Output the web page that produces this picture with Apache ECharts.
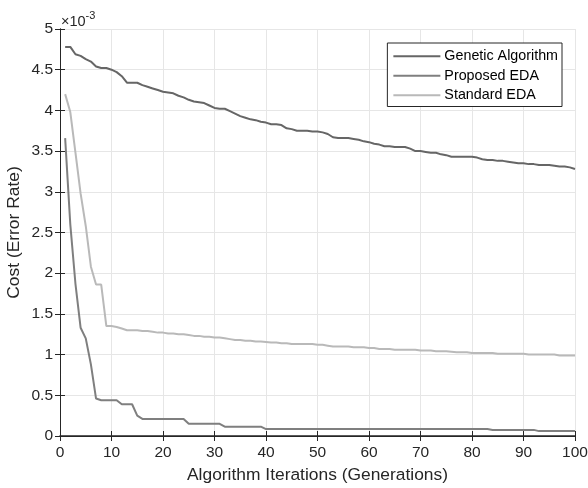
<!DOCTYPE html>
<html>
<head>
<meta charset="utf-8">
<script src="https://cdn.jsdelivr.net/npm/echarts@6/dist/echarts.min.js"></script>
<style>
  html, body { margin: 0; padding: 0; background: #fff; }
  #main { width: 588px; height: 488px; }
</style>
</head>
<body>
<div id="main"></div>
<script>
// iterations 1..100, costs in units of 1e-3
const iterations = [1,2,3,4,5,6,7,8,9,10,11,12,13,14,15,16,17,18,19,20,21,22,23,24,25,26,27,28,29,30,31,32,33,34,35,36,37,38,39,40,41,42,43,44,45,46,47,48,49,50,51,52,53,54,55,56,57,58,59,60,61,62,63,64,65,66,67,68,69,70,71,72,73,74,75,76,77,78,79,80,81,82,83,84,85,86,87,88,89,90,91,92,93,94,95,96,97,98,99,100]

const geneticAlgorithm = [4.78,4.78,4.69,4.67,4.63,4.60,4.54,4.52,4.52,4.50,4.47,4.42,4.34,4.34,4.34,4.31,4.29,4.27,4.25,4.23,4.22,4.21,4.18,4.16,4.13,4.11,4.10,4.09,4.06,4.03,4.02,4.02,3.99,3.96,3.93,3.91,3.89,3.88,3.86,3.85,3.83,3.83,3.82,3.78,3.77,3.75,3.75,3.75,3.74,3.74,3.73,3.71,3.67,3.66,3.66,3.66,3.65,3.64,3.62,3.61,3.59,3.58,3.56,3.56,3.55,3.55,3.55,3.53,3.50,3.50,3.49,3.48,3.48,3.46,3.45,3.43,3.43,3.43,3.43,3.43,3.42,3.40,3.39,3.39,3.38,3.38,3.37,3.36,3.35,3.35,3.34,3.34,3.33,3.33,3.33,3.32,3.31,3.31,3.30,3.28]

const proposedEDA = [3.66,2.60,1.87,1.33,1.20,0.88,0.46,0.44,0.44,0.44,0.44,0.39,0.39,0.39,0.25,0.21,0.21,0.21,0.21,0.21,0.21,0.21,0.21,0.21,0.15,0.15,0.15,0.15,0.15,0.15,0.15,0.115,0.115,0.115,0.115,0.115,0.115,0.115,0.115,0.085,0.085,0.085,0.085,0.085,0.085,0.085,0.085,0.085,0.085,0.085,0.085,0.085,0.085,0.085,0.085,0.085,0.085,0.085,0.085,0.085,0.085,0.085,0.085,0.085,0.085,0.085,0.085,0.085,0.085,0.085,0.085,0.085,0.085,0.085,0.085,0.085,0.085,0.085,0.085,0.085,0.085,0.085,0.085,0.075,0.075,0.075,0.075,0.075,0.075,0.075,0.075,0.075,0.06,0.06,0.06,0.06,0.06,0.06,0.06,0.06]

const standardEDA = [4.20,3.98,3.48,2.98,2.58,2.08,1.86,1.86,1.35,1.35,1.34,1.32,1.30,1.30,1.30,1.29,1.29,1.28,1.27,1.27,1.26,1.26,1.25,1.25,1.24,1.23,1.23,1.22,1.22,1.21,1.21,1.20,1.19,1.18,1.18,1.17,1.17,1.16,1.16,1.155,1.15,1.15,1.14,1.14,1.13,1.13,1.13,1.13,1.13,1.12,1.12,1.11,1.10,1.10,1.10,1.10,1.09,1.09,1.09,1.08,1.08,1.07,1.07,1.07,1.06,1.06,1.06,1.06,1.06,1.05,1.05,1.05,1.04,1.04,1.04,1.035,1.03,1.03,1.03,1.02,1.02,1.02,1.02,1.02,1.01,1.01,1.01,1.01,1.01,1.01,1.00,1.00,1.00,1.00,1.00,1.00,0.99,0.99,0.99,0.99]

const seriesNames = ['Genetic Algorithm', 'Proposed EDA', 'Standard EDA']
const seriesColors = ['#666666', '#7f7f7f', '#b9b9b9']

function pairs(vals) {
  return iterations.map(function (it, i) { return [it, vals[i]] })
}

const axisColor = '#262626'
const font = 'Liberation Sans, Arial, sans-serif'

const chart = echarts.init(document.getElementById('main'))

const option = {
  animation: false,
  backgroundColor: '#fff',
  grid: { left: 60, right: 13, top: 29, bottom: 52, containLabel: false, outerBoundsMode: 'none' },
  legend: {
    orient: 'vertical',
    right: 26,
    top: 43,
    itemWidth: 47,
    itemHeight: 14,
    itemGap: 3,
    padding: [5, 4, 3, 6],
    backgroundColor: '#fff',
    borderColor: axisColor,
    borderWidth: 1,
    borderRadius: 0,
    icon: 'path://M0,6 L47,6 L47,8 L0,8 Z',
    textStyle: { fontFamily: font, fontSize: 14.3, color: '#000', lineHeight: 16.5, padding: [0, 0, 0, -1] },
    data: seriesNames
  },
  xAxis: [{
    type: 'value', min: 0, max: 100, interval: 10,
    name: 'Algorithm Iterations (Generations)',
    nameLocation: 'middle', nameGap: 31,
    nameTextStyle: { fontFamily: font, fontSize: 17.4, color: axisColor },
    axisLine: { show: true, lineStyle: { color: axisColor, width: 1.5 } },
    axisTick: { inside: true, length: 5, lineStyle: { color: axisColor } },
    axisLabel: { fontFamily: font, fontSize: 15.5, color: axisColor, margin: 9 },
    splitLine: { show: true, lineStyle: { color: '#e6e6e6' } }
  }, {
    type: 'value', min: 0, max: 100, interval: 10, position: 'top',
    axisLine: { show: true, lineStyle: { color: axisColor } },
    axisTick: { inside: true, length: 5, lineStyle: { color: axisColor } },
    axisLabel: { show: false },
    splitLine: { show: false }
  }],
  yAxis: [{
    type: 'value', min: 0, max: 5, interval: 0.5,
    name: 'Cost (Error Rate)',
    nameLocation: 'middle', nameGap: 37, nameMoveOverlap: false,
    nameTextStyle: { fontFamily: font, fontSize: 17.4, color: axisColor },
    axisLine: { show: true, lineStyle: { color: axisColor } },
    axisTick: { inside: true, length: 5, lineStyle: { color: axisColor } },
    axisLabel: { fontFamily: font, fontSize: 15.5, color: axisColor, margin: 7 },
    splitLine: { show: true, lineStyle: { color: '#e6e6e6' } }
  }, {
    type: 'value', min: 0, max: 5, interval: 0.5, position: 'right',
    axisLine: { show: true, lineStyle: { color: axisColor } },
    axisTick: { inside: true, length: 5, lineStyle: { color: axisColor } },
    axisLabel: { show: false },
    splitLine: { show: false }
  }],
  graphic: [{
    type: 'text',
    left: 61,
    top: 10,
    style: {
      text: '{a|×10}{b|-3}',
      rich: {
        a: { fontFamily: font, fontSize: 14.5, fill: axisColor, verticalAlign: 'bottom' },
        b: { fontFamily: font, fontSize: 11, fill: axisColor, verticalAlign: 'top', padding: [0, 0, 8, 0] }
      }
    }
  }],
  series: [geneticAlgorithm, proposedEDA, standardEDA].map(function (vals, k) {
    return {
      name: seriesNames[k],
      type: 'line',
      xAxisIndex: 0,
      yAxisIndex: 0,
      data: pairs(vals),
      showSymbol: false,
      symbol: 'none',
      lineStyle: { color: seriesColors[k], width: 2 },
      itemStyle: { color: seriesColors[k] },
      z: 3 - k
    }
  })
}

chart.setOption(option)
</script>
</body>
</html>
